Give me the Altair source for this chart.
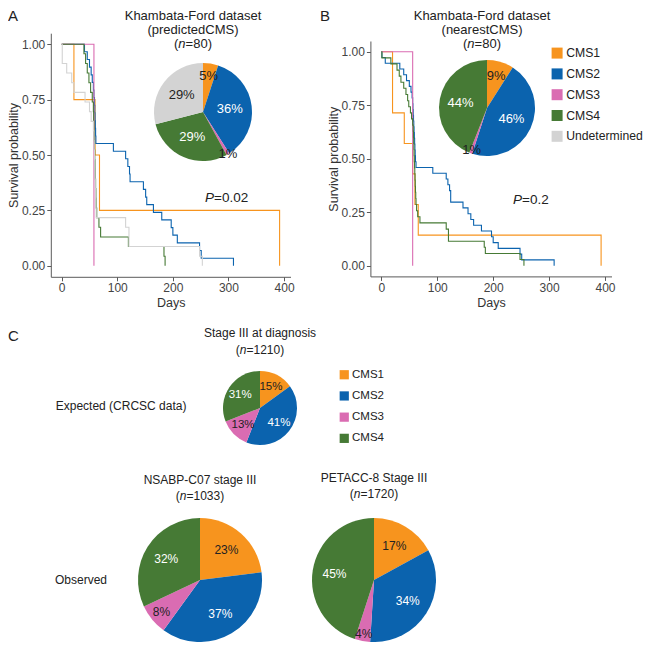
import altair as alt
import pandas as pd

# ---------------- data ----------------
CATS = ["CMS1", "CMS2", "CMS3", "CMS4", "Undetermined"]
COLORS = ["#F7941E", "#0B63AE", "#DA6CB2", "#467A35", "#D3D3D3"]

# Panel A: Khambata-Ford, predictedCMS (Kaplan-Meier steps)
A_CMS1_DAYS = [0, 22, 60, 68, 392]
A_CMS1_SURV = [1.0, 0.75, 0.5, 0.25, 0.0]
A_CMS2_DAYS = [0, 41, 46, 50, 53, 55, 57, 58, 59, 59.5, 60, 60.5, 61, 61.5, 93, 115, 119, 122, 123,
               147, 151, 153, 165, 180, 197, 200, 208, 248, 251, 309]
A_CMS2_SURV = [1.0, .966, .931, .897, .862, .828, .793, .759, .724, .690, .655, .621, .586, .552, .517,
               .483, .448, .414, .379, .345, .310, .276, .241, .207, .172, .138, .103, .069, .034, 0.0]
A_CMS3_DAYS = [0, 58]
A_CMS3_SURV = [1.0, 0.0]
A_CMS4_DAYS = [0, 40, 43, 46, 49, 52, 55, 57, 57.5, 58, 58.5, 59, 59.5, 60, 60.5, 61, 61.5, 62,
               63, 67, 70, 120, 184, 186]
A_CMS4_SURV = [1.0, .957, .913, .870, .826, .783, .739, .696, .652, .609, .565, .522, .478, .435,
               .391, .348, .304, .261, .217, .174, .130, .087, .043, 0.0]
A_UND_DAYS = [0, 1, 9, 18, 22, 42, 50, 53, 57, 58, 58.5, 59, 59.5, 60, 60.5, 61, 61.5, 62,
              115, 121, 248, 253]
A_UND_SURV = [1.0, .913, .870, .826, .783, .739, .696, .652, .609, .565, .522, .478, .435, .391,
              .348, .304, .261, .217, .174, .087, .043, 0.0]

# Panel B: Khambata-Ford, nearestCMS
B_CMS1_DAYS = [0, 20, 41, 56, 60, 66, 393]
B_CMS1_SURV = [1.0, .714, .571, .429, .286, .143, 0.0]
B_CMS2_DAYS = [0, 1, 7, 33, 40, 45, 50, 53, 55, 56, 56.5, 57, 57.5, 58, 58.5, 59, 59.5, 60, 60.5,
               61, 62, 92, 116, 119, 122, 124, 146, 155, 160, 165, 179, 197, 200, 209, 248, 251, 309]
B_CMS2_SURV = [1.0, .973, .946, .919, .892, .865, .838, .811, .784, .757, .730, .703, .676, .649,
               .622, .595, .568, .541, .514, .486, .459, .432, .405, .378, .351, .297, .270, .243,
               .216, .189, .162, .135, .108, .081, .054, .027, 0.0]
B_CMS3_DAYS = [0, 56]
B_CMS3_SURV = [1.0, 0.0]
B_CMS4_DAYS = [0, 1, 17, 28, 32, 35, 40, 44, 47, 49, 52, 54, 56, 57, 57.4, 57.8, 58.2, 58.6, 59,
               59.4, 59.8, 60.2, 60.6, 61, 61.5, 62, 63, 65, 69, 116, 120, 184, 186, 248, 255]
B_CMS4_SURV = [1.0, .971, .943, .914, .886, .857, .829, .800, .771, .743, .714, .686, .657, .629,
               .600, .571, .543, .514, .486, .457, .429, .400, .371, .343, .314, .286, .257, .229,
               .200, .171, .114, .086, .057, .029, 0.0]

# Pie percentages
PIE_A_PCT = [5, 36, 1, 29, 29]        # CMS1..CMS4, Undetermined
PIE_B_PCT = [9, 46, 1, 44]            # CMS1..CMS4
PIE_EXP_PCT = [15, 41, 13, 31]
PIE_NSABP_PCT = [23, 37, 8, 32]
PIE_PETACC_PCT = [17, 34, 4, 45]

DAY_TICKS = [0, 100, 200, 300, 400]
SURV_TICKS = [0, 0.25, 0.5, 0.75, 1.0]

# ---------------- style ----------------
W, H = 635, 634
SANS = "Liberation Sans"
DARK = "#222222"

CHARW = {"(": 333, ")": 333, "n": 556, "=": 584, "P": 667, ".": 278}
for _d in "0123456789":
    CHARW[_d] = 556


def strw(s, size):
    return sum(CHARW.get(c, 556) for c in s) * size / 1000.0


def km_frame(groups):
    rows = []
    for grp, days, surv in groups:
        for d, s in zip(days, surv):
            rows.append({"day": d, "surv": s, "group": grp})
    return pd.DataFrame(rows)


# stroke scale listed in another order so its legend is never merged with the pie legends
STROKE_DOMAIN = CATS[::-1]
STROKE_RANGE = COLORS[::-1]


def km_chart(df, xr, yr):
    common = dict(grid=False, domainColor="#5a5a5a", tickColor="#5a5a5a", tickSize=4,
                  labelColor="#444444", labelFont=SANS, labelFontSize=12,
                  titleFont=SANS, titleFontSize=12.5, titleFontWeight="normal",
                  titleColor="#333333", labelPadding=2)
    return alt.Chart(df).mark_line(interpolate="step-after", strokeWidth=1.1).encode(
        x=alt.X("day:Q",
                scale=alt.Scale(domain=[-19.6, 411.6], range=xr, nice=False, zero=False),
                axis=alt.Axis(orient="bottom", offset=yr[0] - H, values=DAY_TICKS,
                              title="Days", titlePadding=3, **common)),
        y=alt.Y("surv:Q",
                scale=alt.Scale(domain=[-0.05, 1.05], range=yr, nice=False, zero=False),
                axis=alt.Axis(orient="left", offset=-xr[0], values=SURV_TICKS, format=".2f",
                              title="Survival probability", titlePadding=1, **common)),
        stroke=alt.Stroke("group:N", scale=alt.Scale(domain=STROKE_DOMAIN, range=STROKE_RANGE),
                          legend=None),
    )


def pie(cats, pcts, cx, cy, r, rb, rs, rt, fsize, channel, legend):
    df = pd.DataFrame({"cms": cats, "pct": pcts, "k": list(range(len(cats)))})
    df["label"] = [f"{p}%" for p in pcts]
    base = alt.Chart(df)
    if channel == "fill":
        col = alt.Fill("cms:N", scale=alt.Scale(domain=CATS[:4], range=COLORS[:4]), legend=legend)
    else:
        col = alt.Color("cms:N", scale=alt.Scale(domain=CATS, range=COLORS), legend=legend)
    arc = base.mark_arc(radius=r).encode(
        theta=alt.Theta("pct:Q", stack=True, scale=alt.Scale(domain=[0, 100])),
        order=alt.Order("k:Q"),
        x=alt.value(cx), y=alt.value(cy),
        **{channel: col},
    )
    txt = base.transform_window(
        cum="sum(pct)", sort=[alt.SortField("k")], frame=[None, 0]
    ).transform_calculate(
        mid="datum.cum - datum.pct / 2",
        lr=f"datum.pct < 3 ? {rt} : (datum.pct < 10 ? {rs} : {rb})",
    ).mark_text(font=SANS, fontSize=fsize, baseline="middle", align="center").encode(
        theta=alt.Theta("mid:Q", stack=False, scale=alt.Scale(domain=[0, 100])),
        radius=alt.Radius("lr:Q", scale=None),
        x=alt.value(cx), y=alt.value(cy),
        text="label:N",
        color=alt.condition("datum.cms == 'CMS2' || datum.cms == 'CMS4'",
                            alt.value("white"), alt.value(DARK)),
    )
    return [arc, txt]


def label(s, x, y, size=13, align="center", style="normal", color=DARK):
    return alt.Chart(pd.DataFrame({"t": [s]})).mark_text(
        font=SANS, fontSize=size, align=align, baseline="middle", fontStyle=style, color=color
    ).encode(text="t:N", x=alt.value(x), y=alt.value(y))


def n_label(num, cx, y, size=13):
    parts = ["(", "n", f"={num})"]
    total = sum(strw(p, size) for p in parts)
    left = cx - total / 2
    out = []
    for p in parts:
        out.append(label(p, left, y, size, align="left",
                         style="italic" if p == "n" else "normal"))
        left += strw(p, size)
    return out


def p_label(val, x, y, size=13.5):
    return [label("P", x, y, size, align="left", style="italic"),
            label(f"={val}", x + strw("P", size), y, size, align="left")]


# ---------------- layers ----------------
dfA = km_frame([("CMS1", A_CMS1_DAYS, A_CMS1_SURV), ("CMS2", A_CMS2_DAYS, A_CMS2_SURV),
                ("CMS3", A_CMS3_DAYS, A_CMS3_SURV), ("CMS4", A_CMS4_DAYS, A_CMS4_SURV),
                ("Undetermined", A_UND_DAYS, A_UND_SURV)])
dfB = km_frame([("CMS1", B_CMS1_DAYS, B_CMS1_SURV), ("CMS2", B_CMS2_DAYS, B_CMS2_SURV),
                ("CMS3", B_CMS3_DAYS, B_CMS3_SURV), ("CMS4", B_CMS4_DAYS, B_CMS4_SURV)])

kmA = km_chart(dfA, [42.8, 282.5], [268.8, 25.2])
kmB = km_chart(dfB, [362.4, 603.5], [268.4, 33.0])

legend_top = alt.Legend(orient="none", legendX=543, legendY=39, title=None, symbolType="square",
                        symbolSize=121, symbolStrokeWidth=0, labelFont=SANS, labelFontSize=12.2,
                        labelColor=DARK, rowPadding=7.8, labelOffset=3, padding=0)
legend_bot = alt.Legend(orient="none", legendX=330.5, legendY=361, title=None, symbolType="square",
                        symbolSize=85, symbolStrokeWidth=0, labelFont=SANS, labelFontSize=11.5,
                        labelColor=DARK, rowPadding=8.2, labelOffset=2, padding=0)

layers = [kmA, kmB]
layers += pie(CATS, PIE_A_PCT, 195, 104, 49, 27, 36, 49, 13, "color", legend_top)
layers += pie(CATS[:4], PIE_B_PCT, 479, 100, 48, 27, 33, 45, 13, "color", legend_top)
layers += pie(CATS[:4], PIE_EXP_PCT, 252, 400, 37, 24, 30, 30, 11.5, "fill", legend_bot)
layers += pie(CATS[:4], PIE_NSABP_PCT, 192, 572, 62, 40, 50, 50, 12, "fill", legend_bot)
layers += pie(CATS[:4], PIE_PETACC_PCT, 366, 572, 62, 40, 55, 55, 12, "fill", legend_bot)

# panel letters
layers += [label("A", 0, 8, 15, align="left"),
           label("B", 312, 8, 15, align="left"),
           label("C", 0, 328, 15, align="left")]
# titles top
layers += [label("Khambata-Ford dataset", 185, 7.5, 13), label("(predictedCMS)", 185, 21.5, 13)]
layers += n_label(80, 185, 35.5)
layers += [label("Khambata-Ford dataset", 474, 7.5, 13), label("(nearestCMS)", 474, 21.5, 13)]
layers += n_label(80, 474, 35.5)
layers += p_label("0.02", 197, 190)
layers += p_label("0.2", 505, 192)
# bottom panel text
layers += [label("Stage III at diagnosis", 252, 325, 12)]
layers += n_label(1210, 252, 341.5, 12)
layers += [label("NSABP-C07 stage III", 192, 472, 12)]
layers += n_label(1033, 192, 487.5, 12)
layers += [label("PETACC-8 Stage III", 366, 470, 12)]
layers += n_label(1720, 366, 486, 12)
layers += [label("Expected (CRCSC data)", 47.7, 397.7, 12, align="left"),
           label("Observed", 47, 572, 12, align="left")]

chart = alt.layer(*layers).resolve_scale(
    x="independent", y="independent"
).properties(
    width=W, height=H, autosize=alt.AutoSizeParams(type="none"), padding=0
).configure_view(stroke=None)

chart.save("out.html", embed_options={"renderer": "svg", "actions": False})
